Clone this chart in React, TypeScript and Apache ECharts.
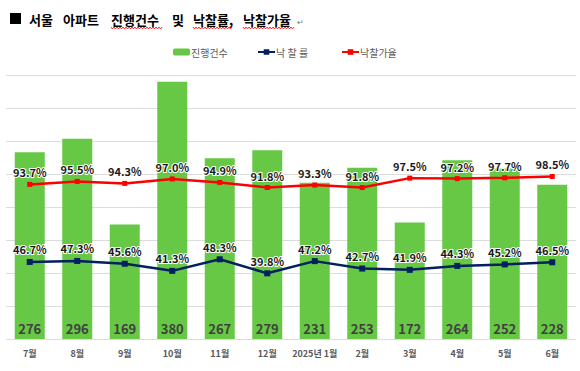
import React, { useEffect, useRef } from 'react';
import * as echarts from 'echarts';

const categories = ['7월', '8월', '9월', '10월', '11월', '12월', '2025년 1월', '2월', '3월', '4월', '5월', '6월'];
const counts = [276, 296, 169, 380, 267, 279, 231, 253, 172, 264, 252, 228];
const winRate = [46.7, 47.3, 45.6, 41.3, 48.3, 39.8, 47.2, 42.7, 41.9, 44.3, 45.2, 46.5];
const priceRate = [93.7, 95.5, 94.3, 97.0, 94.9, 91.8, 93.3, 91.8, 97.5, 97.2, 97.7, 98.5];
const seriesNames = ['진행건수', '낙 찰 률', '낙찰가율'];
const titleWords = ['서울', '아파트', '진행건수', '및', '낙찰률,', '낙찰가율'];
const titleWordX = [29, 63, 111, 172, 193, 243];
const legendX = [173, 257, 341];

const FONT = '"Noto Sans CJK KR", "Noto Sans", sans-serif';

function wavy(x1: number, x2: number, y: number) {
  const pts: number[][] = [];
  let up = true;
  for (let x = x1; x <= x2; x += 1.5) {
    pts.push([x, up ? y - 1 : y + 1]);
    up = !up;
  }
  return {
    type: 'polyline',
    shape: { points: pts },
    style: { stroke: '#FF0000', lineWidth: 0.8, fill: null },
    silent: true,
  };
}

export default function App() {
  const ref = useRef<HTMLDivElement>(null);
  useEffect(() => {
    document.body.style.margin = '0';
    const chart = echarts.init(ref.current!, null, { renderer: 'svg' });
    const pctLabel = {
      show: true,
      position: 'top',
      distance: 4,
      fontSize: 11,
      fontWeight: 'bold',
      fontFamily: FONT,
      color: '#1a1a1a',
      textBorderColor: '#ffffff',
      textBorderWidth: 2,
      formatter: (p: any) => Number(p.value).toFixed(1) + '%',
    };
    const legendBase = {
      top: 47,
      padding: 0,
      itemWidth: 17,
      itemHeight: 7,
      textStyle: { fontSize: 10, color: '#595959', fontFamily: FONT, padding: [0, 0, 0, -4] },
    };
    chart.setOption({
      animation: false,
      backgroundColor: '#ffffff',
      textStyle: { fontFamily: FONT },
      grid: { left: 6, right: 4, top: 75, bottom: 32 },
      legend: seriesNames.map((n, i) => ({ ...legendBase, data: [n], left: legendX[i] })),
      xAxis: {
        type: 'category',
        data: categories,
        axisLine: { show: false },
        axisTick: { show: false },
        axisLabel: { interval: 0, fontSize: 9, fontWeight: 'bold', color: '#595959', margin: 10, fontFamily: FONT },
      },
      yAxis: [
        { type: 'value', min: 0, max: 390, show: false, splitLine: { show: false } },
        {
          type: 'value',
          min: 0,
          max: 160,
          interval: 20,
          axisLabel: { show: false },
          axisLine: { show: false },
          axisTick: { show: false },
          splitLine: { lineStyle: { color: '#DCDCDC', width: 1 } },
        },
      ],
      series: [
        {
          name: seriesNames[0],
          type: 'bar',
          yAxisIndex: 0,
          data: counts,
          barWidth: 30,
          itemStyle: { color: '#66C844' },
          label: {
            show: true,
            position: 'insideBottom',
            distance: 4,
            fontSize: 13,
            fontWeight: 'bold',
            color: '#404040',
            fontFamily: FONT,
          },
        },
        {
          name: seriesNames[1],
          type: 'line',
          yAxisIndex: 1,
          data: winRate,
          symbol: 'rect',
          symbolSize: 6,
          lineStyle: { color: '#002060', width: 2.5 },
          itemStyle: { color: '#002060' },
          label: pctLabel,
        },
        {
          name: seriesNames[2],
          type: 'line',
          yAxisIndex: 1,
          data: priceRate,
          symbol: 'rect',
          symbolSize: 5,
          lineStyle: { color: '#FF0000', width: 2.5 },
          itemStyle: { color: '#FF0000' },
          label: pctLabel,
        },
      ],
      graphic: [
        { type: 'rect', shape: { x: 10, y: 13, width: 11, height: 11 }, style: { fill: '#000000' } },
        ...titleWords.map((w, i) => ({
          type: 'text',
          x: titleWordX[i],
          y: 19,
          style: {
            text: w,
            fontSize: 13,
            fontWeight: 'bold',
            fontFamily: FONT,
            fill: '#000000',
            verticalAlign: 'middle',
          },
        })),
        {
          type: 'text',
          x: 297,
          y: 21,
          style: { text: '↵', fontSize: 8, fill: '#777777', verticalAlign: 'middle', fontFamily: FONT },
        },
        wavy(111, 163, 28),
        wavy(193, 232, 28),
        wavy(243, 295, 28),
      ],
    });
    return () => chart.dispose();
  }, []);
  return <div ref={ref} style={{ width: 580, height: 371 }} />;
}
